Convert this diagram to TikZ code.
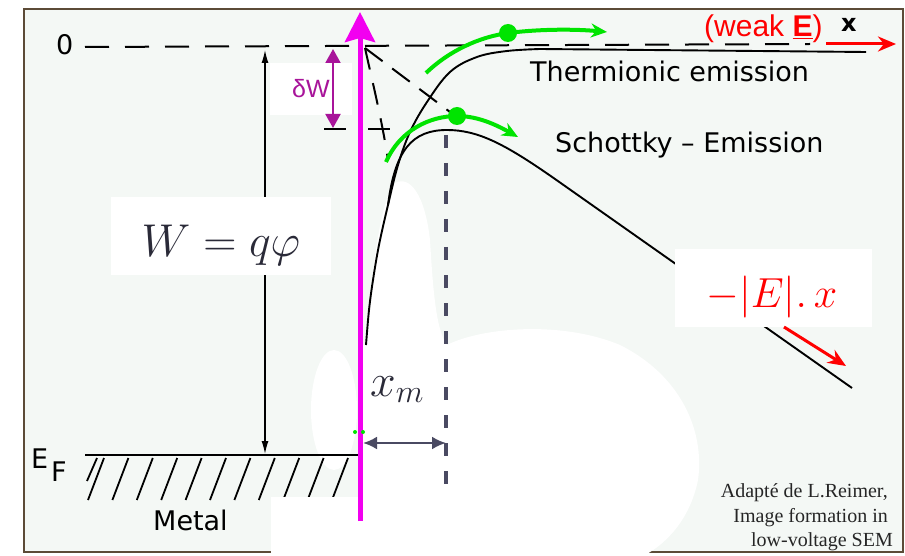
\documentclass[tikz,border=0pt]{standalone}
\usepackage{fix-cm}
\usepackage{fontspec}
\setmainfont{Liberation Serif}
\newfontfamily\labf{DejaVu Sans}
\newfontfamily\arf{Liberation Sans}
\usetikzlibrary{arrows.meta}
\definecolor{bgc}{HTML}{F4F8F5}
\definecolor{brd}{HTML}{5C4B37}
\definecolor{mag}{HTML}{F200F0}
\definecolor{dwc}{HTML}{A8149A}
\definecolor{grn}{HTML}{00E400}
\definecolor{slt}{HTML}{4A4A62}
\definecolor{mathc}{HTML}{2A2A38}
\begin{document}
\begin{tikzpicture}[x=1pt,y=-1pt,
  lab/.style={font=\labf\fontsize{27}{30}\selectfont, text=black, inner sep=0pt},
  dsh/.style={black, line width=2pt, dash pattern=on 24pt off 16pt},
  curve/.style={black, line width=1.9pt},
  grarrow/.style={grn, line width=4pt, -{Stealth[length=16pt,width=14pt]}},
  redarrow/.style={red, line width=3pt, -{Stealth[length=18pt,width=15pt]}},
  wbox/.style={fill=white, inner sep=0pt}]
\useasboundingbox (0,0) rectangle (905,556);
\fill[white] (0,0) rectangle (905,556);
\filldraw[fill=bgc, draw=brd, line width=2pt] (24,9) rectangle (903,552);
% white blotches
\fill[white] (366,345) .. controls (372,270) and (380,200) .. (395,183)
  .. controls (410,175) and (425,195) .. (430,240)
  .. controls (433,290) and (436,330) .. (447,345)
  .. controls (480,328) and (560,320) .. (620,345)
  .. controls (680,375) and (705,430) .. (698,480)
  .. controls (690,520) and (665,545) .. (643,556) -- (360,556) -- (360,345) -- cycle;
\fill[white] (334,410) ellipse [x radius=23, y radius=60];
% dashed construction lines
\draw[dsh] (85,47) -- (810,44);
\draw[black, line width=2pt, dash pattern=on 22pt off 12pt] (365,48) -- (450,112);
\draw[black, line width=2pt, dash pattern=on 22pt off 14pt] (365,48) .. controls (372,80) and (382,120) .. (388,160);
\draw[black, line width=2pt, dash pattern=on 22pt off 22pt] (324,129) -- (390,129);
% emission curves
\draw[curve] plot[smooth, tension=0.6] coordinates {(366,345) (369,310) (373,280) (379,245) (388,205) (398,165) (410,132) (427,102) (450,72) (477,57) (507,51) (540,49)} -- (866,52);
\draw[curve] (388,205) .. controls (395,150) and (412,130) .. (447,130)
  .. controls (478,130) and (505,144) .. (555,179) -- (852,388);
% metal and Fermi level
\draw[black, line width=1.8pt] (85,455) -- (362,455);
\draw[black, line width=1.8pt] (97,458) -- (87,481);
\foreach \i in {0,...,10} \draw[black, line width=1.8pt] (104+24.4*\i,458) -- ++(-16,42);
\fill[white] (271,497) rectangle (643,556);
% W arrow
\coordinate (wtop) at (265,50);
\coordinate (wbot) at (265,454);
\draw[black, line width=1.3pt, {Latex[length=13pt,width=7pt]}-{Latex[length=13pt,width=7pt]}] (wtop) -- (wbot);
% label boxes
\node[wbox, minimum width=220pt, minimum height=78pt] (wqbox) at (221,236) {};
\node[wbox, minimum width=197pt, minimum height=78pt] (ebox) at (773.5,288) {};
\node[wbox, minimum width=82pt, minimum height=52pt] (dwbox) at (311,89) {};
% texts
\node[lab, anchor=base west] (zero) at (56,55) {0};
\node[lab, anchor=base west] (therm) at (530,82) {Thermionic emission};
\node[lab, anchor=base west] (schot) at (555,153) {Schottky – Emission};
\node[lab, anchor=base west] (metal) at (153,530) {Metal};
\node[lab, anchor=base west] (ef) at (31,468) {E};
\node[lab, anchor=base west] (efsub) at (51,481) {F};
\node[anchor=base, inner sep=0pt, text=mathc, font=\fontsize{46}{50}\selectfont] (wq) at (221,256) {$W = q\varphi$};
\node[anchor=base west, inner sep=0pt, text=mathc, font=\fontsize{46}{50}\selectfont] (xm) at (370,396) {$x_m$};
\node[anchor=base, inner sep=0pt, text=red, font=\fontsize{42}{46}\selectfont] (ex) at (772,307) {$-|E|.\,x$};
\node[anchor=base west, inner sep=0pt, text=dwc, font=\arf\fontsize{25}{28}\selectfont] (dw) at (292,98) {δW};
\node[anchor=base west, inner sep=0pt, text=red, font=\arf\fontsize{30}{32}\selectfont] (weak) at (704,37) {(weak \underline{\textbf{E}})};
\node[anchor=base west, inner sep=0pt, font=\labf\bfseries\fontsize{24}{26}\selectfont] (xl) at (841,32) {x};
\node[anchor=base east, inner sep=0pt, text=black!85, font=\fontsize{20}{22}\selectfont] (a1) at (888,497) {Adapté de L.Reimer,};
\node[anchor=base east, inner sep=0pt, text=black!85, font=\fontsize{20}{22}\selectfont] (a2) at (888,522) {Image formation in};
\node[anchor=base east, inner sep=0pt, text=black!85, font=\fontsize{20}{22}\selectfont] (a3) at (893,546) {low-voltage SEM};
% delta W arrow
\coordinate (dwt) at (333,49);
\coordinate (dwb) at (333,128);
\draw[dwc, line width=2pt, {Triangle[length=14pt,width=15pt]}-{Triangle[length=14pt,width=15pt]}] (dwt) -- (dwb);
% x_m marker
\draw[slt, line width=3.5pt, dash pattern=on 13pt off 15pt] (446,135) -- (446,486);
\coordinate (xa) at (363,443);
\coordinate (xb) at (446,443);
\draw[slt, line width=2.5pt, {Latex[length=14pt,width=13pt]}-{Latex[length=14pt,width=13pt]}] (xa) -- (xb);
% magenta axis
\coordinate (mb) at (360,521);
\coordinate (mt) at (360,12);
\draw[mag, line width=5pt, -{Stealth[length=30pt,width=30pt,inset=4pt]}] (mb) -- (mt);
% green electrons
\draw[grarrow] (426,73) .. controls (450,50) and (480,37) .. (508,33) .. controls (540,29) and (575,29) .. (607,32);
\fill[grn] (508,33) circle[radius=9pt];
\draw[grarrow] (386,162) .. controls (400,130) and (430,116) .. (457,116) .. controls (480,116) and (500,127) .. (518,137);
\fill[grn] (457,116) circle[radius=9pt];
\fill[grn] (355,432) circle[radius=2pt];
\fill[grn] (363,432) circle[radius=2pt];
% red field arrows
\coordinate (ra1) at (826,44);
\coordinate (ra2) at (896,44);
\draw[redarrow] (ra1) -- (ra2);
\coordinate (rb1) at (784,327);
\coordinate (rb2) at (846,366);
\draw[redarrow] (rb1) -- (rb2);
\end{tikzpicture}
\end{document}
